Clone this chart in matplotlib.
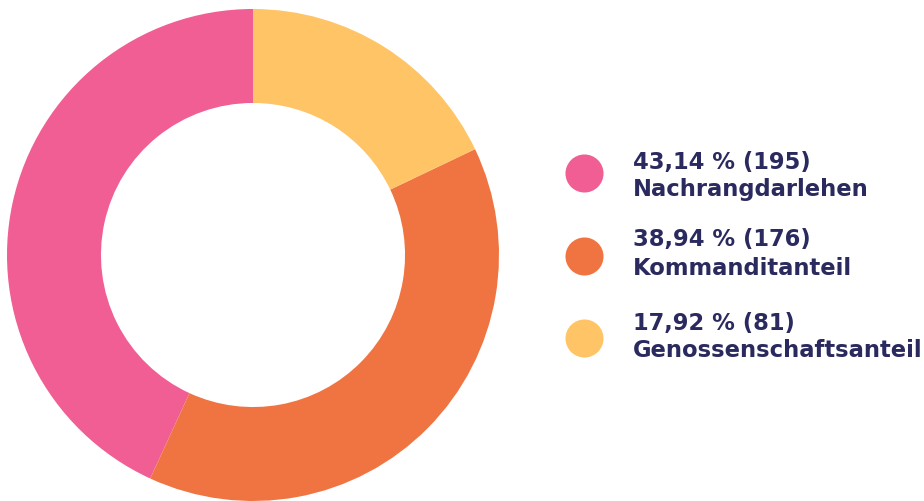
import matplotlib
matplotlib.use("Agg")
import matplotlib.pyplot as plt

categories = ["Nachrangdarlehen", "Kommanditanteil", "Genossenschaftsanteil"]
percents = [43.14, 38.94, 17.92]
counts = [195, 176, 81]
colors = ["#F05E93", "#F07442", "#FFC466"]
text_color = "#2A2A5E"

W, H = 924, 502
fig = plt.figure(figsize=(W / 100, H / 100), dpi=100)

# donut
cx, cy, r = 253, 256, 246
ax = fig.add_axes([(cx - r) / W, (H - cy - r) / H, 2 * r / W, 2 * r / H])
ax.pie(percents, colors=colors, startangle=90, counterclock=True, radius=1.0,
       wedgeprops=dict(width=0.382, linewidth=0))
ax.set_xlim(-1, 1)
ax.set_ylim(-1, 1)
ax.set_aspect("equal")
ax.axis("off")

# legend
lax = fig.add_axes([0, 0, 1, 1])
lax.set_xlim(0, W)
lax.set_ylim(H, 0)
lax.axis("off")
dot_y = [174, 256.5, 338.5]
line1_y = [169, 246, 330]
line2_y = [196.5, 275, 357]
for cat, p, n, c, y, y1, y2 in zip(categories, percents, counts, colors,
                                   dot_y, line1_y, line2_y):
    lax.scatter([584], [y], s=750, color=c, linewidths=0)
    pct = f"{p:.2f}".replace(".", ",")
    lax.text(633, y1, f"{pct} % ({n})", fontsize=16.3, fontweight="bold",
             family="DejaVu Sans", color=text_color, va="baseline", ha="left")
    lax.text(633, y2, cat, fontsize=16.3, fontweight="bold",
             family="DejaVu Sans", color=text_color, va="baseline", ha="left")

fig.savefig("out.png", dpi=100)
